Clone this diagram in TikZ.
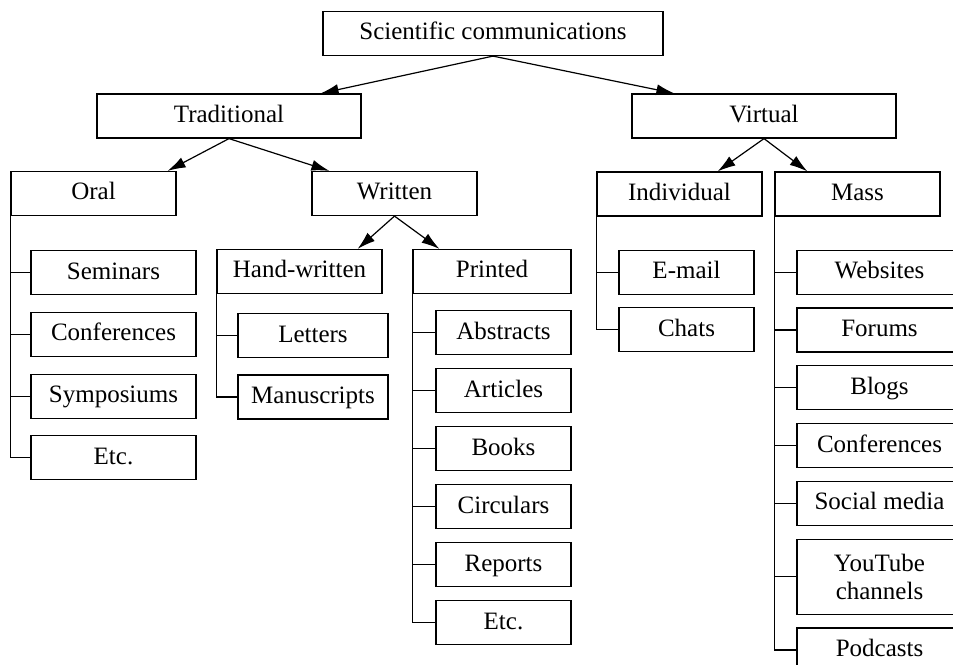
\documentclass[tikz,border=0pt]{standalone}
\usepackage{fontspec}
\setmainfont{Liberation Serif}
\usetikzlibrary{arrows.meta,positioning}
\tikzset{cat box/.style={draw, line width=0.6pt, inner sep=1pt, minimum height=22pt,
    font=\fontsize{12.5}{14}\selectfont, text height=0.75em, text depth=0.11em},
  sub arrow/.style={line width=0.6pt, -{Latex[length=9pt,width=5.5pt]}},
  branch/.style={line width=0.6pt}}

\begin{document}
\begin{tikzpicture}[x=0.5pt,y=-0.5pt]
  \useasboundingbox (0,0) rectangle (953,664);
  \clip (0,0) rectangle (953,664);
  % upper levels
  \node[cat box, minimum width=170pt] (sci) at (493,33.5) {Scientific communications};
  \node[cat box, minimum width=132pt] (trad) at (229,116) {Traditional};
  \node[cat box, minimum width=132pt] (virt) at (764,116) {Virtual};
  \node[cat box, minimum width=82.5pt] (oral) at (93.5,193.5) {Oral};
  \node[cat box, minimum width=82.5pt] (writ) at (394.5,193.5) {Written};
  \node[cat box, minimum width=82.5pt] (indiv) at (679.5,194) {Individual};
  \node[cat box, minimum width=82.5pt] (mass) at (857.5,194) {Mass};
  \node[cat box, minimum width=82.5pt] (hand) at (299.5,271.5) {Hand-written};
  \node[cat box, minimum width=79pt] (print) at (492,271.5) {Printed};

  \draw[sub arrow] (sci.south) -- ([xshift=-20.5pt]trad.north east);
  \draw[sub arrow] (sci.south) -- ([xshift=21.5pt]virt.north west);
  \draw[sub arrow] (trad.south) -- ([xshift=-4.5pt]oral.north east);
  \draw[sub arrow] (trad.south) -- ([xshift=9pt]writ.north west);
  \draw[sub arrow] (writ.south) -- ([xshift=-12.5pt]hand.north east);
  \draw[sub arrow] (writ.south) -- ([xshift=13.5pt]print.north west);
  \draw[sub arrow] (virt.south) -- ([xshift=-22.5pt]indiv.north east);
  \draw[sub arrow] (virt.south) -- ([xshift=16.5pt]mass.north west);

  % oral
  \begin{scope}[every node/.style={cat box, minimum width=82.5pt}, node distance=8.25pt]
    \node[below right=17pt and 10pt of oral.south west] (o1) {Seminars};
    \node[below=of o1] (o2) {Conferences};
    \node[below=of o2] (o3) {Symposiums};
    \node[below=of o3] (o4) {Etc.};
  \end{scope}
  \draw[branch] (oral.south west) |- (o4.west);
  \foreach \n in {o1,o2,o3}
    \draw[branch] (oral.south west |- \n.west) -- (\n.west);

  % hand-written
  \begin{scope}[every node/.style={cat box, minimum width=75pt}, node distance=8pt]
    \node[below right=9.5pt and 10.5pt of hand.south west] (h1) {Letters};
    \node[below=of h1] (h2) {Manuscripts};
  \end{scope}
  \draw[branch] (hand.south west) |- (h2.west);
  \draw[branch] (hand.south west |- h1.west) -- (h1.west);

  % printed
  \begin{scope}[every node/.style={cat box, minimum width=67.5pt}, node distance=6.4pt]
    \node[below right=8pt and 11.5pt of print.south west] (p1) {Abstracts};
    \node[below=of p1] (p2) {Articles};
    \node[below=of p2] (p3) {Books};
    \node[below=of p3] (p4) {Circulars};
    \node[below=of p4] (p5) {Reports};
    \node[below=of p5] (p6) {Etc.};
  \end{scope}
  \draw[branch] (print.south west) |- (p6.west);
  \foreach \n in {p1,p2,p3,p4,p5}
    \draw[branch] (print.south west |- \n.west) -- (\n.west);

  % individual
  \begin{scope}[every node/.style={cat box, minimum width=67.5pt}, node distance=6.2pt]
    \node[below right=16.5pt and 11pt of indiv.south west] (i1) {E-mail};
    \node[below=of i1] (i2) {Chats};
  \end{scope}
  \draw[branch] (indiv.south west) |- (i2.west);
  \draw[branch] (indiv.south west |- i1.west) -- (i1.west);

  % mass
  \begin{scope}[every node/.style={cat box, minimum width=82.5pt}, node distance=6.3pt]
    \node[below right=16.5pt and 11pt of mass.south west] (m1) {Websites};
    \node[below=of m1] (m2) {Forums};
    \node[below=of m2] (m3) {Blogs};
    \node[below=of m3] (m4) {Conferences};
    \node[below=of m4] (m5) {Social media};
    \node[below=of m5, minimum height=37.5pt, text height=, text depth=, align=center] (m6) {YouTube\\channels};
    \node[below=of m6] (m7) {Podcasts};
  \end{scope}
  \draw[branch] (mass.south west) |- (m7.west);
  \foreach \n in {m1,m2,m3,m4,m5,m6}
    \draw[branch] (mass.south west |- \n.west) -- (\n.west);
\end{tikzpicture}
\end{document}
